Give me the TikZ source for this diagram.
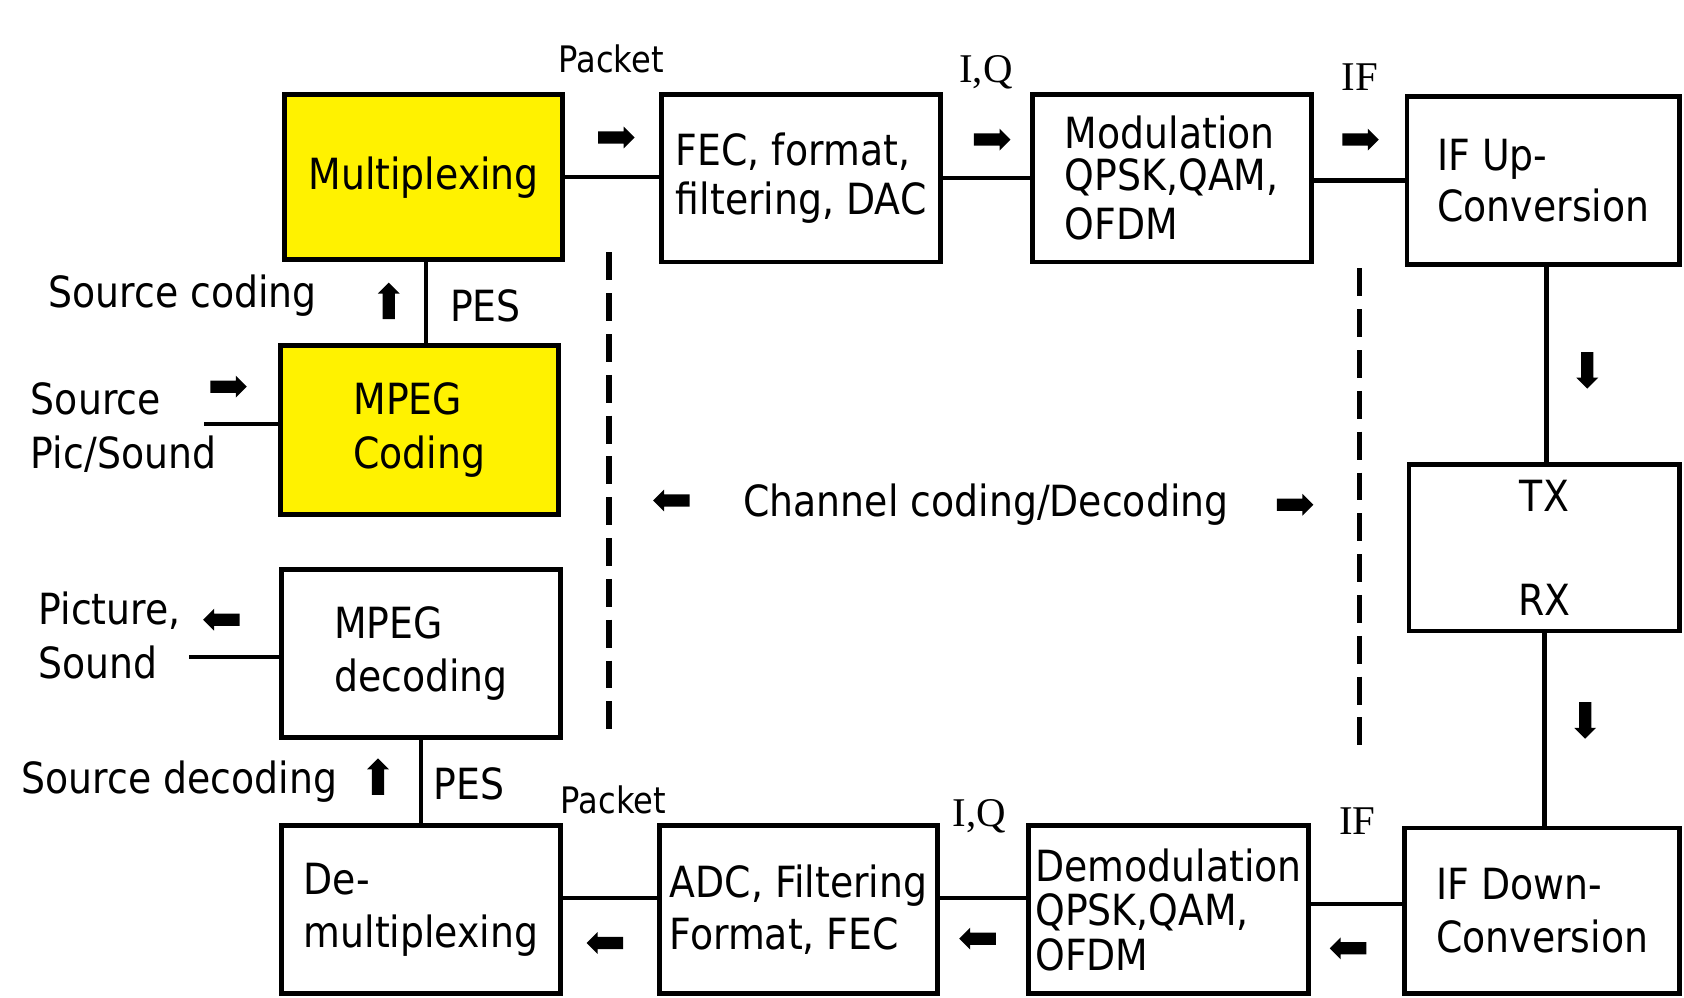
\documentclass[tikz,border=0pt]{standalone}
\usepackage{fontspec}
\setmainfont{DejaVu Sans}[FakeStretch=0.88]
\newfontfamily\iqserif{Liberation Serif}
\usetikzlibrary{shapes.arrows,calc}
\newcommand\bxfont{\fontsize{40}{50}\selectfont}
\newcommand\pkfont{\fontsize{34}{40}\selectfont}
\newcommand\iqfont{\iqserif\fontsize{38}{44}\selectfont}
\definecolor{boxyellow}{RGB}{255,242,0}
\begin{document}
\begin{tikzpicture}[x=1pt,y=-1pt,
  box/.style={draw=black, line width=4.5pt, fill=white, align=left, inner sep=0pt, font=\bxfont},
  ybox/.style={box, fill=boxyellow},
  conn/.style={line width=4pt},
  dashline/.style={line width=5pt, dash pattern=on 26pt off 12pt},
  barrow/.style={single arrow, fill=black, draw=none, inner xsep=0pt, inner ysep=5.5pt, minimum height=34pt, single arrow head extend=4.5pt, single arrow head indent=0pt},
  lab/.style={font=\bxfont, inner sep=0pt, align=left},
  pk/.style={font=\pkfont, inner sep=0pt},
  iq/.style={font=\iqfont, inner sep=0pt}]
\useasboundingbox (0,0) rectangle (1568,929);
\fill[white] (0,0) rectangle (1568,929);

% boxes
\node[ybox, minimum width=259pt, minimum height=154pt] (mux) at (394.5,165) {Multiplexing};
\node[box, minimum width=260pt, minimum height=156pt] (fec) at (746,166) {FEC, format,\\[-4pt]filtering, DAC};
\node[box, minimum width=260pt, minimum height=156pt] (mod) at (1091,166) {Modulation\\[-11pt]QPSK,QAM,\\[-4pt]OFDM};
\node[box, minimum width=254pt, minimum height=156pt] (ifup) at (1437,168) {IF Up-\\[-3pt]Conversion};
\node[ybox, minimum width=259pt, minimum height=157pt] (mpegc) at (390.5,400.5) {MPEG\\Coding};
\node[box, minimum width=252pt, minimum height=155pt, align=center] (txrx) at (1438,510) {TX\\[47pt]RX};
\node[box, minimum width=260pt, minimum height=157pt] (mpegd) at (392,608.5) {MPEG\\decoding};
\node[box, minimum width=260pt, minimum height=156pt] (demux) at (392,847) {De-\\multiplexing};
\node[box, minimum width=259pt, minimum height=156pt] (adc) at (743.5,847) {ADC, Filtering\\[-1pt]Format, FEC};
\node[box, minimum width=260pt, minimum height=156pt] (demod) at (1088,847) {Demodulation\\[-9pt]QPSK,QAM,\\[-8pt]OFDM};
\node[box, minimum width=256pt, minimum height=154pt] (ifdown) at (1436,848) {IF Down-\\[-1pt]Conversion};

% connectors
\draw[conn] (mux.east) -- (mux.east -| fec.west);
\draw[conn] (fec.east) -- (fec.east -| mod.west);
\draw[conn] (ifup.west -| mod.east) -- (ifup.west);
\draw[conn] ([xshift=3pt]ifup.south) -- ([xshift=3pt]ifup.south |- txrx.north);
\draw[conn] (txrx.south) -- (txrx.south |- ifdown.north);
\draw[conn] ([yshift=6pt]ifdown.west) -- ([yshift=6pt]ifdown.west -| demod.east);
\draw[conn] ([yshift=11pt]demod.west) -- ([yshift=11pt]demod.west -| adc.east);
\draw[conn] ([yshift=11pt]adc.west) -- ([yshift=11pt]adc.west -| demux.east);
\draw[conn] (demux.north) -- (demux.north |- mpegd.south);
\draw[conn] ([xshift=6pt]mpegc.north) -- ([xshift=6pt]mpegc.north |- mux.south);
\coordinate (srcend) at (190,395);
\draw[conn] (srcend) -- (srcend -| mpegc.west);
\coordinate (picend) at (176,612);
\draw[conn] (picend) -- (picend -| mpegd.west);

% dashed separators
\coordinate (d1a) at (567,235); \coordinate (d1b) at (567,690);
\coordinate (d2a) at (1266,250); \coordinate (d2b) at (1266,700);
\draw[dashline] (d1a) -- (d1b);
\draw[dashline] (d2a) -- (d2b);

% block arrows
\node[barrow] (a1) at (571,128) {};
\node[barrow] (a2) at (921,130) {};
\node[barrow] (a3) at (1264,130) {};
\node[barrow, rotate=-90] (a4) at (1478,342) {};
\node[barrow, rotate=-90] (a5) at (1476,668) {};
\node[barrow, rotate=180] (a6) at (1258,883) {};
\node[barrow, rotate=180] (a7) at (913,874) {};
\node[barrow, rotate=180] (a8) at (566,878) {};
\node[barrow, rotate=90] (a9) at (362,283) {};
\node[barrow, rotate=90] (a10) at (352,726) {};
\node[barrow] (a11) at (210,360) {};
\node[barrow, rotate=180] (a12) at (209,577) {};
\node[barrow, rotate=180] (a13) at (628,466) {};
\node[barrow] (a14) at (1203,470) {};

% labels
\node[pk] (pk1) at (569,55) {Packet};
\node[iq] (iq1) at (918,67) {I,Q};
\node[iq] (if1) at (1266,72) {IF};
\node[lab] (sc) at (170,275) {Source coding};
\node[lab] (pes1) at (452,285) {PES};
\node[lab] (src) at (115,398) {Source\\Pic/Sound};
\node[lab] (chan) at (918,470) {Channel coding/Decoding};
\node[lab] (pic) at (102,592) {Picture,\\Sound};
\node[lab] (sd) at (167,728) {Source decoding};
\node[lab] (pes2) at (437,730) {PES};
\node[pk] (pk2) at (571,745) {Packet};
\node[iq] (iq2) at (912,760) {I,Q};
\node[iq] (if2) at (1264,765) {IF};
\end{tikzpicture}
\end{document}
